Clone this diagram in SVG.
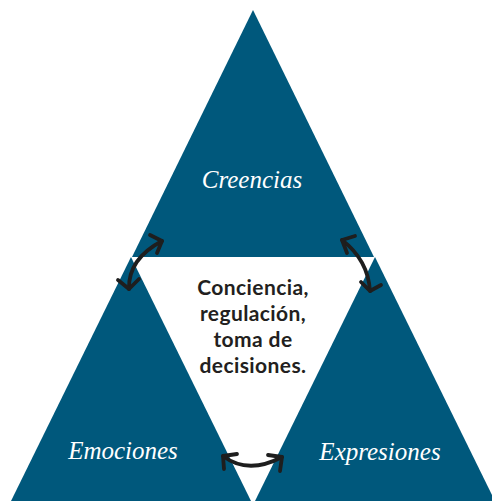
<svg xmlns="http://www.w3.org/2000/svg" width="492" height="501" viewBox="0 0 492 501">
<style>
.tri{fill:#00587c}
.lbl{font-family:"Liberation Serif",serif;font-style:italic;font-size:25px;fill:#ffffff;text-anchor:middle}
.ctr{font-family:Lato,"Liberation Sans",sans-serif;font-weight:700;font-size:21px;letter-spacing:0.4px;fill:#231f20;text-anchor:middle}
.arr{fill:none;stroke:#1e1e1e;stroke-width:3.8;stroke-linecap:round;stroke-linejoin:round}
</style>
<rect width="492" height="501" fill="#ffffff"/>
<g id="creencias">
<polygon class="tri" points="253,10 374,257 132,257"/>
<text class="lbl" x="252" y="188">Creencias</text>
</g>
<g id="emociones">
<polygon class="tri" points="131,257 251,501 11,501"/>
<text class="lbl" x="123" y="459">Emociones</text>
</g>
<g id="expresiones">
<polygon class="tri" points="375,257 495,501 255,501"/>
<text class="lbl" x="380" y="460">Expresiones</text>
</g>
<g id="centro">
<text class="ctr" x="253" y="295">Conciencia,</text>
<text class="ctr" x="253" y="321">regulación,</text>
<text class="ctr" x="253" y="347">toma de</text>
<text class="ctr" x="253" y="373">decisiones.</text>
</g>
<g id="connectors">
<path class="arr" d="M162,241 Q128,259 129,289"/>
<path class="arr" d="M150,235 L162,241 L157,253"/>
<path class="arr" d="M118,280 L129,289 L139,279"/>
<path class="arr" d="M342,240 Q368,260 370,291"/>
<path class="arr" d="M355,236 L342,240 L347,253"/>
<path class="arr" d="M361,282 L370,291 L381,285"/>
<path class="arr" d="M223,456 Q248,475 282,457"/>
<path class="arr" d="M237,454 L223,456 L224,469"/>
<path class="arr" d="M268,455 L282,457 L280,471"/>
</g>
</svg>
